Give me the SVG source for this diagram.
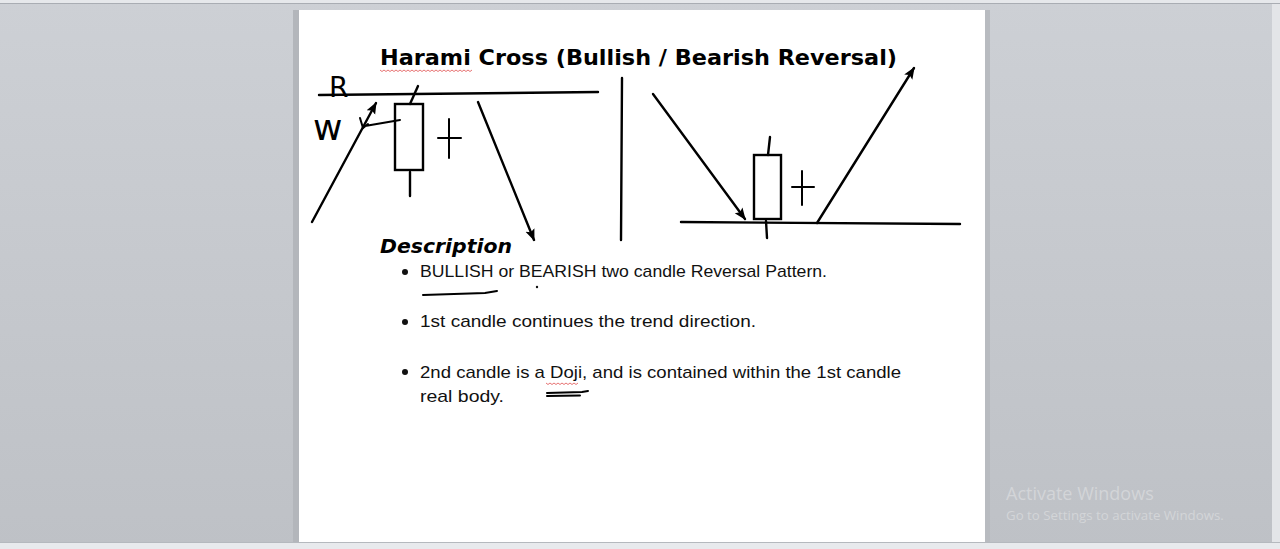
<svg xmlns="http://www.w3.org/2000/svg" width="1280" height="549" viewBox="0 0 1280 549">
<defs>
<linearGradient id="bg" x1="0" y1="0" x2="0" y2="1">
<stop offset="0" stop-color="#cdd0d5"/>
<stop offset="1" stop-color="#bec1c6"/>
</linearGradient>
<marker id="ah" viewBox="0 0 10 10" refX="9" refY="5" markerWidth="5" markerHeight="5" orient="auto" markerUnits="strokeWidth">
<path d="M0,1 L10,5 L0,9 L2,5 Z" fill="#000"/>
</marker>
<style>
.ink{stroke:#000;stroke-width:2.4;fill:none;stroke-linecap:round}
.thin{stroke:#000;stroke-width:2;fill:none;stroke-linecap:round}
.body{font-family:"Liberation Sans",Carlito,sans-serif;font-size:17px;fill:#111}
.wavy{stroke:#e05050;stroke-width:0.8;fill:none}
</style>
</defs>
<rect x="0" y="0" width="1280" height="549" fill="url(#bg)"/>
<rect x="0" y="0" width="1280" height="3" fill="#e6e8eb"/>
<line x1="0" y1="3.5" x2="1280" y2="3.5" stroke="#a9adb3" stroke-width="1"/>
<rect x="1272" y="4" width="8" height="538" fill="#e3e5e8"/>
<rect x="0" y="542" width="1280" height="7" fill="#e8eaed"/>
<line x1="0" y1="542.5" x2="1280" y2="542.5" stroke="#b5b9be" stroke-width="1"/>
<rect x="293" y="10" width="6" height="532" fill="#b3b6bb"/>
<rect x="985" y="10" width="5" height="532" fill="#b8bbc0"/>
<rect x="299" y="10" width="686" height="532" fill="#ffffff"/>

<g id="title">
<text x="380" y="65" font-family="'DejaVu Sans',Verdana,sans-serif" font-weight="bold" font-size="21" textLength="517" lengthAdjust="spacingAndGlyphs" fill="#000">Harami Cross  (Bullish / Bearish Reversal)</text>
<path class="wavy" d="M380,70 l2,1.5 l2,-1.5 l2,1.5 l2,-1.5 l2,1.5 l2,-1.5 l2,1.5 l2,-1.5 l2,1.5 l2,-1.5 l2,1.5 l2,-1.5 l2,1.5 l2,-1.5 l2,1.5 l2,-1.5 l2,1.5 l2,-1.5 l2,1.5 l2,-1.5 l2,1.5 l2,-1.5 l2,1.5 l2,-1.5 l2,1.5 l2,-1.5 l2,1.5 l2,-1.5 l2,1.5 l2,-1.5 l2,1.5 l2,-1.5 l2,1.5 l2,-1.5 l2,1.5 l2,-1.5 l2,1.5 l2,-1.5 l2,1.5 l2,-1.5 l2,1.5 l2,-1.5 l2,1.5 l2,-1.5 l2,1.5 l2,-1.5"/>
</g>

<g id="left-chart">
<line class="ink" x1="319" y1="95" x2="598" y2="92"/>
<text x="329" y="97" font-family="'DejaVu Sans',sans-serif" font-size="28" fill="#000">R</text>
<text x="313" y="140" font-family="'DejaVu Sans',sans-serif" font-size="36" fill="#000">w</text>
<rect class="ink" x="395" y="104" width="28" height="66"/>
<line class="ink" x1="410" y1="104" x2="418" y2="86"/>
<line class="ink" x1="410" y1="172" x2="410" y2="196"/>
<path class="thin" d="M400,120 L365,126 M360,118 L363,128 L368,124"/>
<line class="thin" x1="449" y1="119" x2="449" y2="158"/>
<line class="thin" x1="438" y1="138" x2="461" y2="138"/>
</g>

<g id="right-chart">
<line class="ink" x1="681" y1="222" x2="960" y2="224"/>
<rect class="ink" x="754" y="155" width="27" height="64"/>
<line class="ink" x1="768" y1="155" x2="770" y2="137"/>
<line class="ink" x1="766" y1="221" x2="767" y2="238"/>
<line class="thin" x1="802" y1="171" x2="802" y2="205"/>
<line class="thin" x1="792" y1="187" x2="814" y2="187"/>
</g>

<g id="connectors">
<line class="ink" x1="312" y1="222" x2="376" y2="103" marker-end="url(#ah)"/>
<line class="ink" x1="478" y1="102" x2="534" y2="240" marker-end="url(#ah)"/>
<line class="ink" x1="622" y1="78" x2="621" y2="240"/>
<line class="ink" x1="653" y1="94" x2="745" y2="219" marker-end="url(#ah)"/>
<line class="ink" x1="817" y1="223" x2="914" y2="68" marker-end="url(#ah)"/>
</g>

<g id="description">
<text x="380" y="253" font-family="'DejaVu Sans',Verdana,sans-serif" font-weight="bold" font-style="italic" font-size="19" textLength="132" lengthAdjust="spacingAndGlyphs" fill="#000">Description</text>
<circle cx="405" cy="272" r="3" fill="#111"/>
<text class="body" x="420" y="277" textLength="407" lengthAdjust="spacingAndGlyphs">BULLISH or BEARISH two candle Reversal Pattern.</text>
<path class="thin" d="M423,295 L485,293 L497,291"/>
<circle cx="537" cy="287" r="1.2" fill="#111"/>
<circle cx="405" cy="322" r="3" fill="#111"/>
<text class="body" x="420" y="327" textLength="336" lengthAdjust="spacingAndGlyphs">1st candle continues the trend direction.</text>
<circle cx="405" cy="372" r="3" fill="#111"/>
<text class="body" x="420" y="378" textLength="481" lengthAdjust="spacingAndGlyphs">2nd candle is a Doji, and is contained within the 1st candle</text>
<text class="body" x="420" y="402" textLength="84" lengthAdjust="spacingAndGlyphs">real body.</text>
<path class="wavy" d="M546,383 l2,1.5 l2,-1.5 l2,1.5 l2,-1.5 l2,1.5 l2,-1.5 l2,1.5 l2,-1.5 l2,1.5 l2,-1.5 l2,1.5 l2,-1.5 l2,1.5 l2,-1.5 l2,1.5 l2,-1.5"/>
<path class="thin" d="M547,393 L582,392 L588,391 M547,396 L580,395.5"/>
</g>

<g id="watermark">
<text x="1006" y="500" font-family="'Open Sans','Noto Sans',sans-serif" font-size="18" fill="#d3d5d8">Activate Windows</text>
<text x="1006" y="520" font-family="'Open Sans','Noto Sans',sans-serif" font-size="13.3" fill="#d3d5d8">Go to Settings to activate Windows.</text>
</g>
</svg>
